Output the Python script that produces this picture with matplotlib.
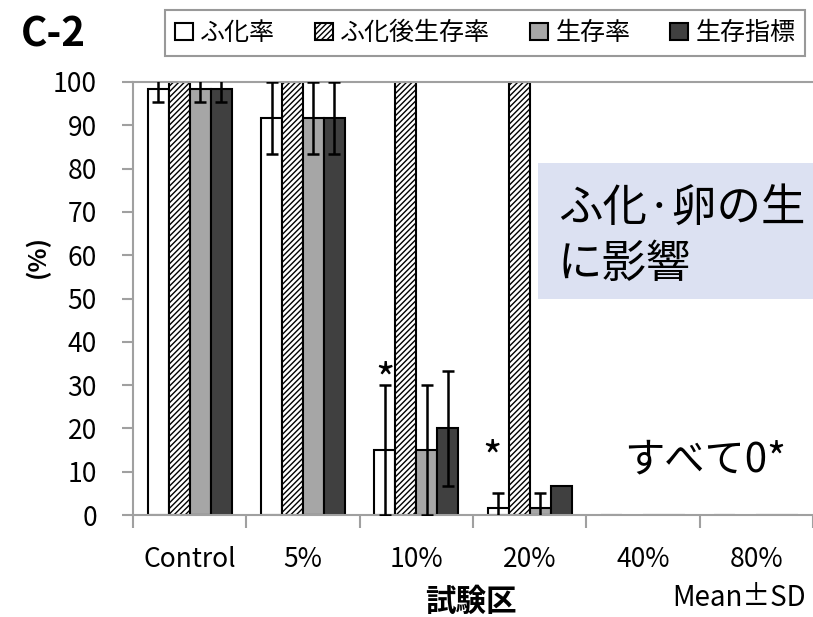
import matplotlib
matplotlib.use("Agg")
import matplotlib.pyplot as plt
from matplotlib.patches import Patch, Rectangle
import numpy as np

plt.rcParams['font.family'] = ['Noto Sans CJK JP', 'DejaVu Sans']
plt.rcParams['hatch.linewidth'] = 1.0

# Data
groups = ["Control", "5%", "10%", "20%", "40%", "80%"]
series = ["ふ化率", "ふ化後生存率", "生存率", "生存指標"]
hatch_rate = [98.3, 91.7, 15.0, 1.7, 0, 0]
hatch_sd = [2.9, 8.3, 15.0, 3.3, 0, 0]
post_surv = [100, 100, 100, 100, np.nan, np.nan]
post_sd = [0, 0, 0, 0, np.nan, np.nan]
surv_rate = [98.3, 91.7, 15.0, 1.7, 0, 0]
surv_sd = [2.9, 8.3, 15.0, 3.3, 0, 0]
surv_index = [98.3, 91.7, 20.0, 6.7, 0, 0]
index_sd = [2.9, 8.3, 13.3, 0, 0, 0]

values = [hatch_rate, post_surv, surv_rate, surv_index]
errors = [hatch_sd, post_sd, surv_sd, index_sd]
faces = ["white", "white", "#A6A6A6", "#404040"]
hatches = [None, "//////", None, None]

fig = plt.figure(figsize=(8.13, 6.17), dpi=100)
ax = fig.add_axes([0.1636, 0.1653, 0.8364, 0.7018])

x = np.arange(len(groups))
width = 0.185
offsets = [-1.5 * width, -0.5 * width, 0.5 * width, 1.5 * width]

for vals, errs, fc, h, off in zip(values, errors, faces, hatches, offsets):
    vals = np.array(vals, dtype=float)
    errs = np.array(errs, dtype=float)
    ax.bar(x + off, vals, width, color=fc, edgecolor="black", linewidth=1.5,
           hatch=h, zorder=2)
    show = errs > 0
    ax.errorbar(x[show] + off, vals[show], yerr=errs[show], fmt="none",
                ecolor="black", elinewidth=1.8, capsize=4.5, capthick=1.8, zorder=3)

# Axes formatting
ax.set_xlim(-0.5, len(groups) - 0.5)
ax.set_ylim(0, 100)
ax.set_yticks(np.arange(0, 101, 10))
ax.set_xticks(np.arange(-0.5, len(groups)), labels=[""] * (len(groups) + 1))
ax.set_xticks(x, labels=groups, minor=True)
ax.tick_params(axis="x", which="minor", length=0, pad=22, labelsize=19)
ax.tick_params(axis="x", which="major", length=9, color="#A0A0A0", width=1.5)
ax.tick_params(axis="y", length=8, color="#A0A0A0", width=1.5, labelsize=19, pad=18)
for side in ["left", "bottom", "top"]:
    ax.spines[side].set_color("#A0A0A0")
    ax.spines[side].set_linewidth(1.5)
ax.spines["right"].set_visible(False)

# Asterisks and note
ax.text(1.72, 26.3, "*", ha="center", va="bottom", fontsize=30)
ax.text(2.67, 8.2, "*", ha="center", va="bottom", fontsize=30)
ax.text(4.55, 12.6, "すべて0*", ha="center", va="center", fontsize=29)

# Labels
fig.text(0.046, 0.585, "(%)", rotation=90, ha="center", va="center",
         fontsize=18, fontweight="bold")
fig.text(0.579, 0.024, "試験区", ha="center", va="center", fontsize=22,
         fontweight="bold")
fig.text(0.909, 0.031, "Mean±SD", ha="center", va="center", fontsize=20)
fig.text(0.026, 0.943, "C-2", ha="left", va="center", fontsize=29,
         fontweight="bold")

# Highlight box
fig.add_artist(Rectangle((0.6617, 0.5154), 0.34, 0.2204, transform=fig.transFigure,
                         facecolor="#DCE1F2", edgecolor="none", zorder=5))
fig.text(0.686, 0.6175, "ふ化·卵の生\nに影響", ha="left", va="center",
         fontsize=32, linespacing=1.27, zorder=6)

# Legend
handles = [Patch(facecolor=fc, edgecolor="black", hatch=h, linewidth=1.5)
           for fc, h in zip(faces, hatches)]
leg = fig.legend(handles, series, loc="center", bbox_to_anchor=(0.597, 0.9465),
                 ncol=4, fontsize=18, frameon=True, fancybox=False,
                 handlelength=0.7, handleheight=0.7, handletextpad=0.3,
                 columnspacing=1.6, borderpad=0.4)
leg.get_frame().set_edgecolor("#808080")
leg.get_frame().set_linewidth(1.5)

fig.savefig("out.png", dpi=100)
